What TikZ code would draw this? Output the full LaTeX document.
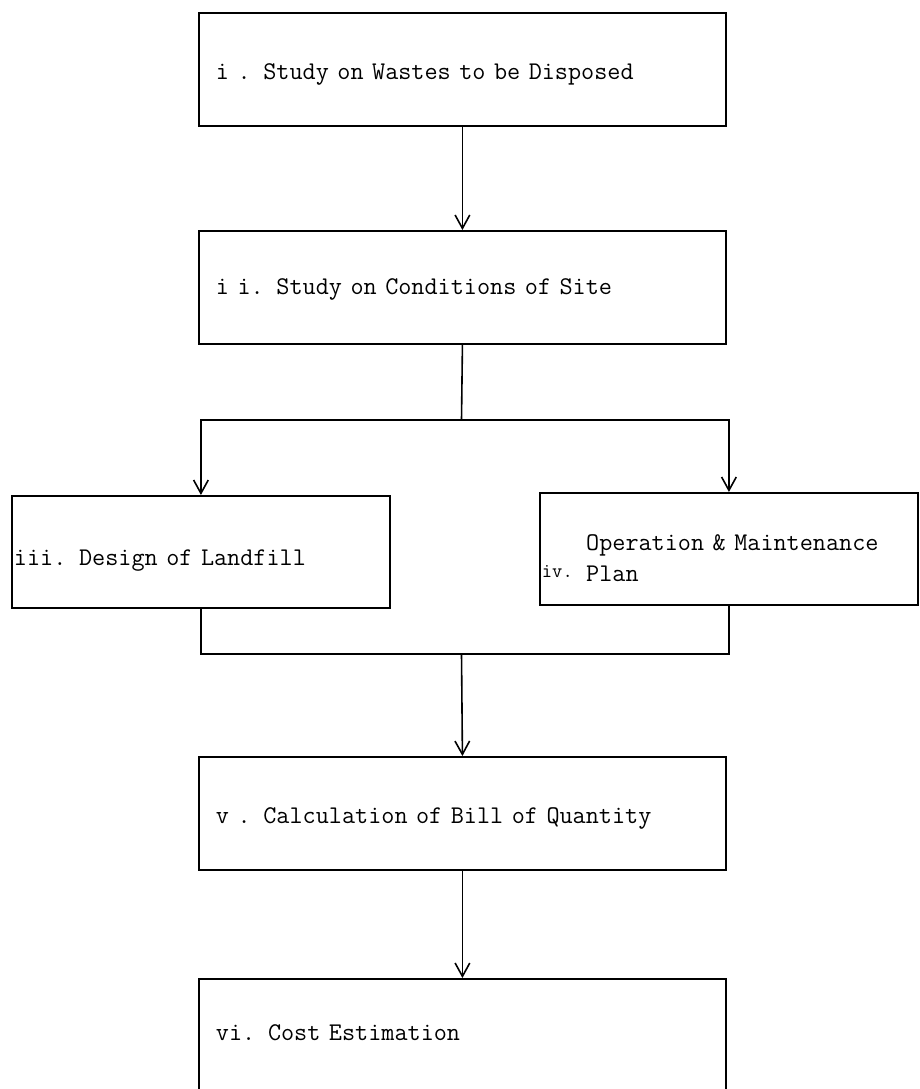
\documentclass[tikz,border=0pt]{standalone}
\usepackage{fontspec}
\usetikzlibrary{arrows.meta,positioning}

% move a label down without changing the box size
\newcommand{\movedown}[2]{\raisebox{-#1}[\height][\depth]{#2}}

\begin{document}
\begin{tikzpicture}[ x=0.75pt, y=-0.75pt, font=\ttfamily\fontsize{19.1}{23}\selectfont,
      >={Straight Barb[length=10pt,width=11pt]}, box/.style={ draw, line width=1.4pt,
      align=left, anchor=north west, inner ysep=0pt }, wide/.style={ box, inner
      xsep=12.75pt, text width=369.75pt, minimum height=84.75pt }, side/.style={
      box, inner xsep=1.5pt, text width=280.5pt, minimum height=84pt },
      arrow/.style={->, line width=1.2pt}, link/.style={line width=1.2pt} ]

    \clip (0,0) rectangle (920,1089);

    \node[wide] (waste) at (198,12) {\movedown{3.75pt}{i . Study on Wastes to be Disposed}};
    \node[wide] (site) at (198,230) {\movedown{1.5pt}{i i. Study on Conditions of Site}};
    \node[side] (design) at (11,495) {\movedown{6.75pt}{iii. Design of Landfill}};
    \node[side] (oper) at (539,492) {\movedown{8pt}{\raisebox{2.5pt}{\fontsize{15}{15}\selectfont
      iv.}\hspace{10pt}\begin{tabular}[b]{@{}l@{}}Operation \& Maintenance\\ Plan\end{tabular}}};
    \node[wide] (bill) at (198,756) {\movedown{3.75pt}{v . Calculation of Bill of Quantity}};
    \node[wide] (cost) at (198,978) {\movedown{-2pt}{vi. Cost Estimation}};

    \coordinate (split) at (461.5,420);
    \coordinate (join) at (461.5,654);

    \draw[arrow] (waste.south) -- (site.north);
    \draw[link] (site.south) -- (split);
    \draw[arrow] (split) -| (design.north);
    \draw[arrow] (split) -| (oper.north);
    \draw[link] (design.south) |- (join);
    \draw[link] (oper.south) |- (join);
    \draw[arrow] (join) -- (bill.north);
    \draw[arrow] (bill.south) -- (cost.north);

  \end{tikzpicture}
\end{document}
